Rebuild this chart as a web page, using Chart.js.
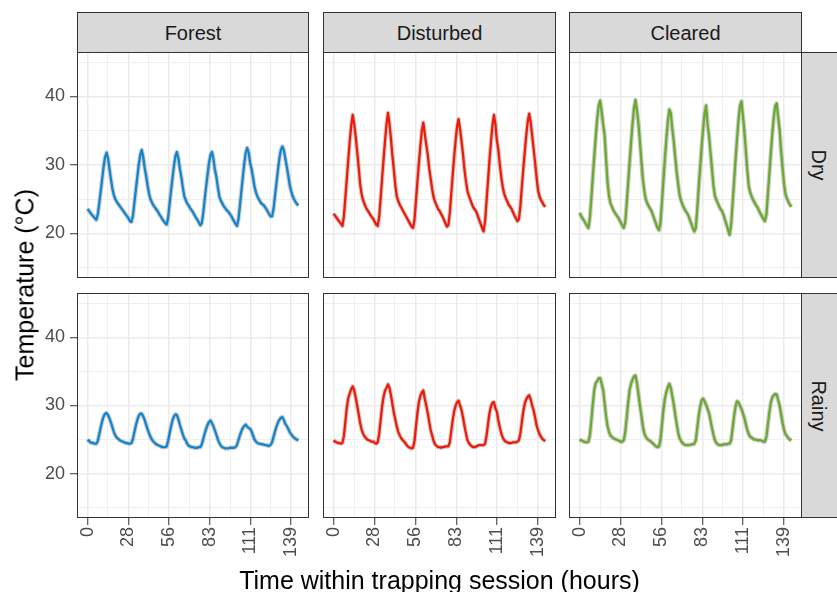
<!DOCTYPE html>
<html><head><meta charset="utf-8">
<script src="https://cdn.jsdelivr.net/npm/chart.js@4.4.1/dist/chart.umd.min.js"></script>
<style>
html,body{margin:0;padding:0;background:#fff;}
body{width:837px;height:592px;position:relative;overflow:hidden;font-family:"Liberation Sans",Arial,Helvetica,sans-serif;}
canvas{position:absolute;}
.strip{position:absolute;background:#D9D9D9;border:1px solid #333;box-sizing:border-box;}
.lbl{position:absolute;white-space:nowrap;line-height:1;transform-origin:50% 50%;}
</style></head><body>
<script>
// ---------------- data ----------------
const columns = ['Forest', 'Disturbed', 'Cleared'];
const rows = ['Dry', 'Rainy'];
const hours = Array.from({length: 145}, (_, i) => i);

const forestDry = [
23.6,23.3,23.0,22.7,22.5,22.2,22.0,22.8,24.4,26.2,28.0,29.8,31.2,31.8,31.0,29.4,27.9,26.5,25.6,25.0,24.6,24.3,24.0,23.7,
23.4,23.1,22.8,22.5,22.2,21.8,21.7,22.6,24.5,26.4,28.3,30.1,31.5,32.2,31.2,29.6,28.4,27.0,25.8,25.0,24.5,24.1,23.8,23.5,
23.2,22.8,22.5,22.1,21.8,21.5,21.3,22.3,24.3,26.2,28.1,29.9,31.3,31.9,31.0,29.5,28.3,26.8,25.5,24.9,24.4,24.1,23.7,23.4,
23.1,22.7,22.3,22.0,21.6,21.2,21.5,23.0,25.0,26.9,28.7,30.4,31.5,31.9,30.8,29.3,28.2,26.7,25.4,24.8,24.4,24.0,23.7,23.4,
23.2,22.9,22.6,22.2,21.8,21.4,21.1,22.0,24.0,26.1,28.2,30.2,31.8,32.5,31.8,30.3,29.4,28.2,26.8,26.0,25.4,25.0,24.6,24.3,
24.2,23.9,23.6,23.2,22.8,22.5,22.5,23.6,25.5,27.4,29.3,31.0,32.2,32.7,32.2,31.0,29.8,28.5,27.1,26.2,25.5,25.0,24.6,24.3,24.1];

const disturbedDry = [
22.9,22.6,22.3,22.0,21.7,21.4,21.1,22.5,25.2,28.0,30.8,33.5,35.8,37.3,36.0,34.2,32.0,29.8,27.3,25.8,24.9,24.3,23.8,23.4,
23.1,22.7,22.4,22.1,21.7,21.3,21.1,22.4,25.2,28.1,30.9,33.6,36.0,37.6,36.0,33.8,31.3,29.3,27.0,25.4,24.7,24.2,23.8,23.4,
23.0,22.6,22.2,21.8,21.4,21.0,20.8,22.0,24.8,27.6,30.3,32.8,35.0,36.2,34.5,33.0,31.5,29.5,28.0,26.5,25.3,24.6,24.1,23.6,
23.3,22.9,22.5,22.0,21.5,21.0,21.2,23.0,25.8,28.6,31.3,33.7,35.7,36.7,35.2,33.4,31.5,29.3,27.6,26.2,25.5,24.9,24.3,23.8,
23.5,23.2,22.6,22.0,21.4,20.8,20.3,21.8,24.8,27.8,30.7,33.4,35.8,37.3,36.0,33.6,32.2,30.1,28.2,26.8,25.8,25.2,24.7,24.2,
23.9,23.6,23.1,22.6,22.2,21.8,22.1,24.0,26.8,29.5,32.0,34.4,36.4,37.5,36.2,34.3,32.3,30.3,28.2,26.3,25.4,24.9,24.5,24.1,23.9];

const clearedDry = [
23.0,22.6,22.2,21.9,21.5,21.1,20.8,22.3,25.2,28.3,31.3,34.2,36.8,38.7,39.4,37.8,36.0,34.4,30.8,27.5,25.5,24.4,23.9,23.4,
23.0,22.7,22.4,22.0,21.6,21.2,20.8,21.6,24.3,27.4,30.4,33.3,36.0,38.3,39.5,38.0,36.0,33.5,30.6,28.0,26.2,25.0,24.4,24.0,
23.6,23.2,22.6,22.0,21.4,20.8,20.5,21.6,24.6,27.8,30.9,33.8,36.4,38.1,37.6,35.3,33.5,31.2,29.0,27.2,25.6,24.8,24.2,23.7,
23.3,23.0,22.6,22.0,21.4,20.8,20.3,20.8,23.6,26.8,29.8,32.7,35.3,37.5,38.7,36.0,34.2,31.8,29.4,27.0,25.5,24.9,24.4,23.9,
23.5,23.2,22.6,21.9,21.2,20.5,19.8,21.2,24.3,27.5,30.7,33.7,36.5,38.6,39.3,37.3,35.0,32.2,29.3,26.9,26.0,25.4,24.9,24.5,
24.1,23.8,23.3,22.9,22.5,22.1,21.8,22.8,25.7,28.7,31.7,34.5,37.0,38.6,39.0,37.0,35.1,32.0,29.5,27.2,25.7,25.1,24.6,24.2,23.9];

const forestRainy = [
25.0,24.8,24.6,24.5,24.5,24.4,24.4,24.8,25.8,26.8,27.7,28.4,28.8,28.9,28.6,28.1,27.5,26.8,26.1,25.6,25.3,25.1,24.9,24.8,
24.7,24.6,24.5,24.5,24.4,24.4,24.5,25.1,26.1,27.1,27.9,28.5,28.8,28.8,28.4,27.9,27.2,26.5,25.9,25.4,25.0,24.7,24.5,24.3,
24.2,24.1,24.0,23.9,23.9,23.9,24.0,24.8,25.9,26.9,27.8,28.4,28.7,28.6,28.0,27.2,26.5,25.8,25.2,24.9,24.4,24.1,24.0,23.9,
23.9,23.8,23.8,23.8,23.9,23.9,24.3,25.1,25.9,26.6,27.2,27.6,27.8,27.4,26.9,26.3,25.7,25.0,24.5,24.1,23.9,23.8,23.7,23.7,
23.7,23.8,23.8,23.8,23.8,23.9,24.2,24.9,25.6,26.2,26.7,27.0,27.2,26.9,26.7,26.6,26.2,25.6,25.0,24.7,24.5,24.4,24.4,24.3,
24.3,24.2,24.2,24.1,24.1,24.2,24.6,25.4,26.2,26.9,27.5,27.9,28.2,28.3,27.9,27.3,27.0,26.6,26.1,25.8,25.5,25.3,25.1,25.0,24.9];

const disturbedRainy = [
24.9,24.7,24.6,24.5,24.5,24.4,24.5,25.5,27.6,29.7,31.1,31.8,32.4,32.8,32.2,31.2,30.0,28.8,27.5,26.5,25.9,25.5,25.2,25.0,
24.9,24.8,24.7,24.7,24.5,24.4,24.6,25.8,27.9,29.9,31.3,32.2,32.6,33.1,32.6,31.5,30.2,28.9,27.9,26.9,26.1,25.6,25.2,24.9,
24.7,24.4,24.1,23.9,23.8,23.7,23.8,24.8,26.9,28.9,30.5,31.4,31.9,32.2,31.0,30.0,28.9,27.6,26.4,25.6,24.8,24.3,24.1,23.9,
23.9,23.8,23.9,23.9,24.0,24.0,24.0,24.6,26.2,27.9,29.2,30.0,30.5,30.7,30.0,29.3,28.2,27.0,25.9,24.9,24.5,24.2,24.0,23.9,
23.9,24.0,24.1,24.2,24.2,24.2,24.2,24.4,25.6,27.3,28.9,29.9,30.4,30.5,29.6,29.1,27.8,26.8,25.9,25.3,24.9,24.7,24.6,24.5,
24.5,24.5,24.6,24.6,24.6,24.7,24.9,25.9,27.6,29.2,30.3,30.9,31.3,31.5,30.9,30.0,29.3,28.2,27.1,26.4,25.8,25.4,25.1,24.9,24.8];

const clearedRainy = [
25.0,24.9,24.8,24.7,24.6,24.6,24.7,25.6,27.8,30.2,32.3,33.3,33.6,34.0,34.0,33.2,32.3,30.4,28.4,27.0,26.1,25.6,25.4,25.2,
25.1,25.0,24.9,24.8,24.7,24.7,24.9,26.0,28.2,30.4,32.3,33.2,33.8,34.3,34.4,33.3,31.6,30.0,28.6,27.0,25.9,25.4,25.1,24.9,
24.8,24.6,24.4,24.2,24.0,23.9,24.0,25.0,27.2,29.4,31.0,32.0,32.7,33.2,32.6,31.4,30.2,28.7,27.3,26.0,25.2,24.8,24.5,24.3,
24.2,24.2,24.2,24.2,24.3,24.3,24.4,24.9,26.7,28.5,29.9,30.8,31.0,30.6,30.1,29.5,28.9,27.8,26.7,25.7,24.9,24.5,24.3,24.2,
24.2,24.2,24.3,24.3,24.3,24.4,24.4,24.9,26.6,28.4,29.8,30.6,30.5,30.0,29.5,28.9,28.2,27.3,26.4,25.8,25.4,25.3,25.1,25.0,
25.0,24.9,24.9,24.9,24.8,24.7,24.7,25.4,27.2,29.0,30.4,31.2,31.5,31.7,31.6,30.8,30.0,28.7,27.4,26.4,25.8,25.5,25.2,25.0,24.9];

const xTickValues = [0, 27.8, 55.6, 83.4, 111.2, 139];
const xTickLabels = ['0', '28', '56', '83', '111', '139'];
const yTickValues = [20, 30, 40];
const yTickLabels = ['20', '30', '40'];
const yAxisTitle = 'Temperature (°C)';
const xAxisTitle = 'Time within trapping session (hours)';

// ---------------- layout / style ----------------
const seriesGrid = [[forestDry, disturbedDry, clearedDry], [forestRainy, disturbedRainy, clearedRainy]];
const colors = ['#1285CF', '#F31A05', '#6BAA2F'];
const PX = [[77, 309], [323, 556], [569, 802]];
const PY = [[52, 278], [293, 518]];
const FONT = '"Liberation Sans", Arial, Helvetica, sans-serif';
Chart.defaults.font.family = FONT;

const minorX = xTickValues.slice(1).map((v, i) => (v + xTickValues[i]) / 2);
const allX = [...xTickValues, ...minorX].sort((a, b) => a - b);
const yStep = yTickValues[1] - yTickValues[0];
const minorY = [yTickValues[0] - yStep / 2, ...yTickValues.map(v => v + yStep / 2)];
const allY = [...yTickValues, ...minorY].sort((a, b) => a - b);

const borderPlugin = {
  id: 'panelBorder',
  afterDraw(chart) {
    const {ctx, chartArea: a} = chart;
    ctx.save();
    ctx.strokeStyle = '#333333';
    ctx.lineWidth = 1;
    ctx.strokeRect(Math.round(a.left) + 0.5, Math.round(a.top) + 0.5,
                   Math.round(a.right - a.left) - 1, Math.round(a.bottom - a.top) - 1);
    ctx.restore();
  }
};

function zeroPad(s) { s.paddingLeft = 0; s.paddingRight = 0; s.paddingTop = 0; s.paddingBottom = 0; }

function makePanel(r, c) {
  const cl = c === 0 ? 0 : PX[c][0] - 1;
  const ct = PY[r][0] - 1;
  const cr = PX[c][1] + 1;
  const cb = r === 1 ? 566 : PY[r][1] + 1;
  const cv = document.createElement('canvas');
  cv.width = cr - cl; cv.height = cb - ct;
  cv.style.left = cl + 'px'; cv.style.top = ct + 'px';
  cv.style.width = cv.width + 'px'; cv.style.height = cv.height + 'px';
  document.body.appendChild(cv);
  const vals = seriesGrid[r][c];
  const pts = hours.map((h, i) => ({x: h, y: vals[i]}));
  const showX = r === 1, showY = c === 0;
  const isMajX = v => xTickValues.includes(v);
  const isMajY = v => yTickValues.includes(v);
  new Chart(cv, {
    type: 'line',
    data: {datasets: [
      {data: pts, borderColor: colors[c], borderWidth: 2.3, pointRadius: 0, tension: 0, order: 1, borderJoinStyle: 'round'},
      {data: pts, borderColor: 'rgba(120,120,120,0.35)', borderWidth: 4.5, pointRadius: 0, tension: 0, order: 2, borderJoinStyle: 'round'}
    ]},
    options: {
      responsive: false, animation: false, devicePixelRatio: 1, events: [],
      layout: {padding: {left: c === 0 ? 0 : 1, top: 1, right: 1, bottom: r === 1 ? 0 : 1}},
      plugins: {legend: {display: false}, tooltip: {enabled: false}},
      scales: {
        x: {
          type: 'linear', min: -7.2, max: 151.2, position: 'bottom',
          afterBuildTicks: s => { s.ticks = allX.map(v => ({value: v})); },
          afterFit: s => { s.height = showX ? cb - PY[r][1] : 0; zeroPad(s); },
          grid: {
            color: '#EBEBEB',
            lineWidth: ctx => isMajX(ctx.tick.value) ? 1.5 : 0.75,
            drawTicks: showX, tickLength: 7, tickWidth: 1,
            tickColor: ctx => isMajX(ctx.tick.value) ? '#333333' : 'rgba(0,0,0,0)'
          },
          border: {display: false},
          ticks: {
            display: showX, autoSkip: false, maxRotation: 90, minRotation: 90, padding: 2,
            color: '#4D4D4D', font: {family: FONT, size: 18},
            callback: v => { const i = xTickValues.indexOf(v); return i >= 0 ? xTickLabels[i] : ''; }
          }
        },
        y: {
          type: 'linear', min: 13.5, max: 46.5, position: 'left',
          afterBuildTicks: s => { s.ticks = allY.map(v => ({value: v})); },
          afterFit: s => { s.width = showY ? PX[0][0] : 0; zeroPad(s); },
          grid: {
            color: '#EBEBEB',
            lineWidth: ctx => isMajY(ctx.tick.value) ? 1.5 : 0.75,
            drawTicks: showY, tickLength: 7, tickWidth: 1,
            tickColor: ctx => isMajY(ctx.tick.value) ? '#333333' : 'rgba(0,0,0,0)'
          },
          border: {display: false},
          ticks: {
            display: showY, autoSkip: false, padding: 5,
            color: '#4D4D4D', font: {family: FONT, size: 18},
            callback: v => { const i = yTickValues.indexOf(v); return i >= 0 ? yTickLabels[i] : ''; }
          }
        }
      }
    },
    plugins: [borderPlugin]
  });
}

function addDiv(cls, css) {
  const d = document.createElement('div');
  d.className = cls;
  Object.assign(d.style, css);
  document.body.appendChild(d);
  return d;
}
function addText(text, cx, cy, size, color, rot) {
  const d = addDiv('lbl', {left: cx + 'px', top: cy + 'px', fontSize: size + 'px', color: color,
    transform: 'translate(-50%,-50%) rotate(' + rot + 'deg)'});
  d.textContent = text;
}

// strips
columns.forEach((name, c) => {
  addDiv('strip', {left: PX[c][0] + 'px', top: '12px', width: (PX[c][1] - PX[c][0]) + 'px', height: '41px'});
  addText(name, (PX[c][0] + PX[c][1]) / 2, 33, 20, '#1A1A1A', 0);
});
rows.forEach((name, r) => {
  addDiv('strip', {left: (PX[2][1] - 1) + 'px', top: PY[r][0] + 'px', width: '50px', height: (PY[r][1] - PY[r][0]) + 'px'});
  addText(name, 819, (PY[r][0] + PY[r][1]) / 2, 20, '#1A1A1A', 90);
});

for (let r = 0; r < 2; r++) for (let c = 0; c < 3; c++) makePanel(r, c);

addText(yAxisTitle, 24.6, 285, 25, '#000000', -90);
addText(xAxisTitle, (PX[0][0] + PX[2][1]) / 2, 580.3, 25, '#000000', 0);
</script>
</body></html>
